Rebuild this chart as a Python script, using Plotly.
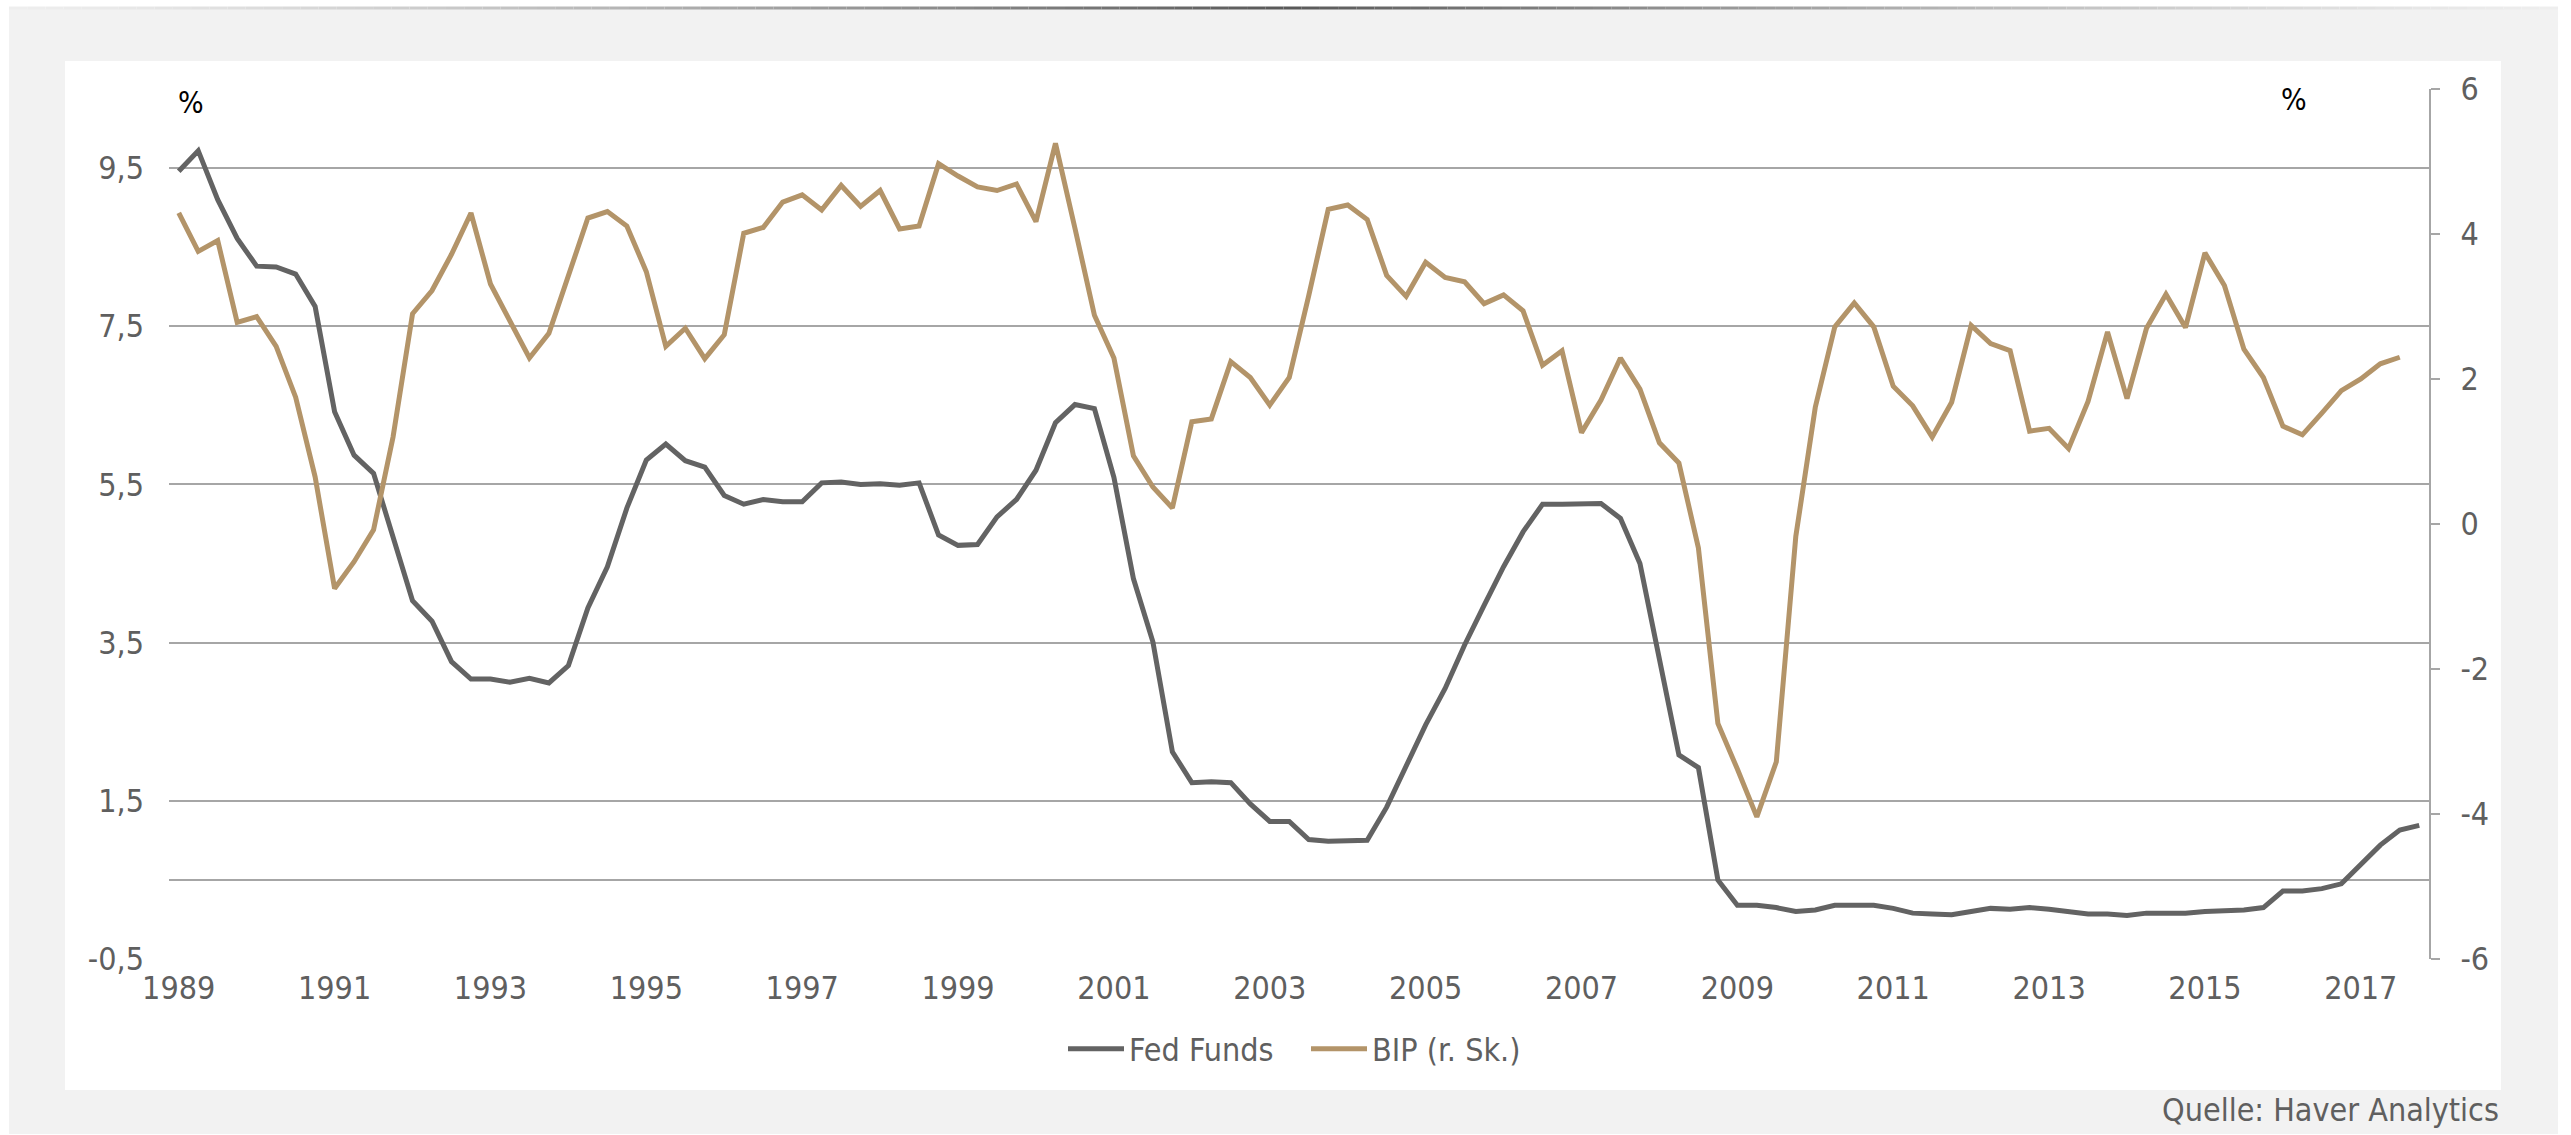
import plotly.graph_objects as go

# Quarterly series, 1989 Q1 - 2017 Q4
years = list(range(1989, 2018))
quarters = [f"{y}Q{q}" for y in years for q in range(1, 5)]

fed_funds = [
    9.46, 9.72, 9.10, 8.61, 8.26, 8.25, 8.16, 7.75, 6.42, 5.87, 5.64, 4.84,
    4.03, 3.77, 3.26, 3.04, 3.04, 3.00, 3.05, 2.99, 3.21, 3.94, 4.46, 5.20,
    5.81, 6.01, 5.80, 5.72, 5.36, 5.25, 5.31, 5.28, 5.28, 5.52, 5.53, 5.50,
    5.51, 5.49, 5.52, 4.86, 4.73, 4.74, 5.09, 5.31, 5.68, 6.28, 6.51, 6.46,
    5.59, 4.31, 3.51, 2.12, 1.73, 1.74, 1.73, 1.46, 1.24, 1.24, 1.01, 0.99,
    0.99, 1.00, 1.42, 1.94, 2.46, 2.92, 3.47, 3.97, 4.46, 4.90, 5.25, 5.25,
    5.26, 5.26, 5.07, 4.50, 3.29, 2.08, 1.92, 0.50, 0.18, 0.18, 0.15, 0.10,
    0.12, 0.18, 0.18, 0.18, 0.14, 0.08, 0.07, 0.06, 0.10, 0.14, 0.13, 0.15,
    0.13, 0.10, 0.07, 0.07, 0.05, 0.08, 0.08, 0.08, 0.10, 0.11, 0.12, 0.15,
    0.36, 0.36, 0.39, 0.45, 0.70, 0.94, 1.13, 1.19,
]

bip = [
    4.29, 3.76, 3.91, 2.78, 2.86, 2.45, 1.75, 0.65, -0.89, -0.52, -0.08, 1.20,
    2.90, 3.22, 3.72, 4.29, 3.31, 2.80, 2.29, 2.63, 3.43, 4.22, 4.31, 4.11,
    3.48, 2.45, 2.70, 2.28, 2.61, 4.01, 4.09, 4.44, 4.54, 4.33, 4.67, 4.38,
    4.60, 4.07, 4.11, 4.97, 4.80, 4.65, 4.60, 4.69, 4.17, 5.25, 4.08, 2.88,
    2.29, 0.94, 0.51, 0.22, 1.41, 1.45, 2.24, 2.02, 1.64, 2.02, 3.15, 4.34,
    4.40, 4.20, 3.43, 3.14, 3.61, 3.40, 3.34, 3.04, 3.16, 2.94, 2.19, 2.39,
    1.26, 1.71, 2.29, 1.86, 1.12, 0.84, -0.33, -2.75, -3.38, -4.04, -3.28, -0.17,
    1.61, 2.72, 3.05, 2.72, 1.90, 1.63, 1.20, 1.68, 2.74, 2.49, 2.39, 1.28,
    1.32, 1.04, 1.69, 2.65, 1.73, 2.70, 3.17, 2.71, 3.74, 3.29, 2.41, 2.02,
    1.35, 1.23, 1.53, 1.84, 2.00, 2.21, 2.30,
]

x_tick_labels = [str(y) for y in range(1989, 2018, 2)]
left_ticks = [-0.5, 1.5, 3.5, 5.5, 7.5, 9.5]
left_tick_text = ["-0,5", "1,5", "3,5", "5,5", "7,5", "9,5"]
right_ticks = [-6, -4, -2, 0, 2, 4, 6]
right_tick_text = ["-6", "-4", "-2", "0", "2", "4", "6"]

# Page geometry (pixels)
W, H = 2571, 1135
PL, PR, PT, PB = 169, 2429, 89, 959

FONT = "Liberation Sans Narrow, Arial Narrow, DejaVu Sans Condensed, sans-serif"
FS = 32
GRID = "#a6a6a6"
TXT = "#5f5f5f"
C_FED = "#636363"
C_BIP = "#b39469"


def fx(px):
    return (px - PL) / (PR - PL)


def fy(py):
    return (PB - py) / (PB - PT)


fig = go.Figure()
fig.add_trace(go.Scatter(
    x=quarters, y=fed_funds, name="Fed Funds", mode="lines",
    line=dict(color=C_FED, width=5), yaxis="y",
))
fig.add_trace(go.Scatter(
    x=quarters[:len(bip)], y=bip, name="BIP (r. Sk.)", mode="lines",
    line=dict(color=C_BIP, width=5), yaxis="y2",
))

shapes = [
    # grey page frame and white chart panel
    dict(type="rect", xref="paper", yref="paper", layer="below",
         x0=fx(9), x1=fx(2558), y0=fy(1134), y1=fy(9),
         fillcolor="#f2f2f2", line=dict(width=0)),
    dict(type="rect", xref="paper", yref="paper", layer="below",
         x0=fx(65), x1=fx(2501), y0=fy(1090), y1=fy(61),
         fillcolor="#ffffff", line=dict(width=0)),
]

# fading rule along the top edge, darkest in the middle
n_seg = 140
x_start, x_end, mid = 9, 2558, 1285
for k in range(n_seg):
    a = x_start + (x_end - x_start) * k / n_seg
    b = x_start + (x_end - x_start) * (k + 1) / n_seg
    t = max(0.0, 1 - abs((a + b) / 2 - mid) / (mid - x_start))
    g = int(round(238 - 150 * t ** 1.3))
    shapes.append(dict(type="line", xref="paper", yref="paper", layer="below",
                       x0=fx(a), x1=fx(b), y0=fy(8), y1=fy(8),
                       line=dict(color=f"rgb({g},{g},{g})", width=3)))

annotations = [
    dict(text="%", xref="paper", yref="paper", x=fx(191), y=fy(102),
         showarrow=False, xanchor="center", yanchor="middle",
         font=dict(family=FONT, size=30, color="#000000")),
    dict(text="%", xref="paper", yref="paper", x=fx(2294), y=fy(100),
         showarrow=False, xanchor="center", yanchor="middle",
         font=dict(family=FONT, size=30, color="#000000")),
    dict(text="Quelle: Haver Analytics", xref="paper", yref="paper",
         x=fx(2501), y=fy(1110), showarrow=False,
         xanchor="right", yanchor="middle",
         font=dict(family=FONT, size=FS, color=TXT)),
]

fig.update_layout(
    width=W, height=H,
    margin=dict(l=PL, r=W - PR, t=PT, b=H - PB, pad=0),
    paper_bgcolor="#ffffff",
    plot_bgcolor="rgba(0,0,0,0)",
    font=dict(family=FONT, size=FS, color=TXT),
    shapes=shapes,
    annotations=annotations,
    showlegend=True,
    legend=dict(orientation="h", x=fx(1306), xanchor="center",
                y=fy(1049), yanchor="middle",
                font=dict(family=FONT, size=FS, color=TXT),
                bgcolor="rgba(0,0,0,0)", itemwidth=56,
                entrywidth=172, tracegroupgap=0),
    xaxis=dict(
        type="category", categoryorder="array", categoryarray=quarters,
        range=[-0.5, len(quarters) - 0.5],
        tickmode="array", tickvals=quarters[::8], ticktext=x_tick_labels,
        showgrid=False, zeroline=False, showline=False, ticks="",
        tickfont=dict(family=FONT, size=FS, color=TXT),
        ticklabelstandoff=7,
    ),
    yaxis=dict(
        range=[-0.5, 10.5], tickmode="array",
        tickvals=left_ticks, ticktext=left_tick_text,
        showgrid=True, gridcolor=GRID, gridwidth=2,
        minor=dict(tickmode="array", tickvals=[0.5], showgrid=True,
                   gridcolor=GRID, gridwidth=2, ticks=""),
        zeroline=False, showline=False, ticks="",
        tickfont=dict(family=FONT, size=FS, color=TXT),
        ticklabelstandoff=24,
    ),
    yaxis2=dict(
        range=[-6, 6], overlaying="y", side="right", tickmode="array",
        tickvals=right_ticks, ticktext=right_tick_text,
        showgrid=False, zeroline=False,
        showline=True, linecolor=GRID, linewidth=2,
        ticks="outside", ticklen=9, tickwidth=2, tickcolor=GRID,
        tickfont=dict(family=FONT, size=FS, color=TXT),
        ticklabelstandoff=14,
    ),
)

fig.write_html("out.html")
